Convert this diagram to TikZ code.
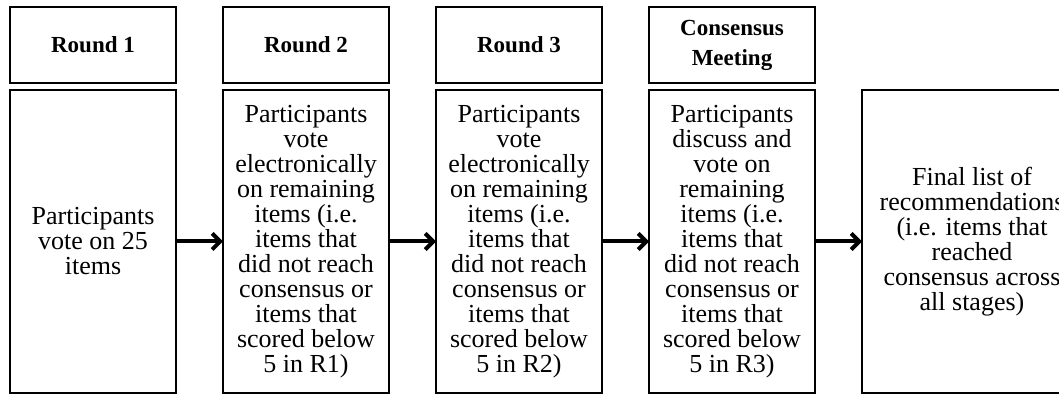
\documentclass[tikz,border=0pt]{standalone}
\usepackage{fontspec}
\setmainfont{Liberation Serif}
\usepackage{tikz}
\usetikzlibrary{positioning}
\usetikzlibrary{arrows.meta}

\begin{document}
\begin{tikzpicture}[
        node distance=3.5pt and 23.5pt,
        box/.style={draw, line width=0.9pt, outer sep=0, align=center, minimum width=83pt},
        head/.style={box, minimum height=38pt, font=\bfseries\fontsize{11.5}{15}\selectfont},
        stage/.style={box, minimum height=151.5pt, font=\fontsize{13}{12.5}\selectfont},
        final/.style={stage, minimum width=110pt},
        >={Straight Barb[length=4pt,width=8pt]}
      ]
     \useasboundingbox (0,0) rectangle (529.5pt,-197pt);
     \clip (0,0) rectangle (529.5pt,-197pt);
     % headings
     \node[head, anchor=north west] (h1) at (5pt,-3.5pt) {Round 1};
     \node[head, right=of h1] (h2) {Round 2};
     \node[head, right=of h2] (h3) {Round 3};
     \node[head, right=of h3] (h4) {Consensus\\Meeting};
     % stages
     \node[stage, below=of h1] (b1) {Participants\\vote on 25\\items};
     \node[stage, below=of h2] (b2) {Participants\\vote\\electronically\\on remaining\\items (i.e.\\items that\\did not reach\\consensus or\\items that\\scored below\\5 in R1)};
     \node[stage, below=of h3] (b3) {Participants\\vote\\electronically\\on remaining\\items (i.e.\\items that\\did not reach\\consensus or\\items that\\scored below\\5 in R2)};
     \node[stage, below=of h4] (b4) {Participants\\discuss and\\vote on\\remaining\\items (i.e.\\items that\\did not reach\\consensus or\\items that\\scored below\\5 in R3)};
     \node[final, right=of b4] (b5) {Final list of\\recommendations\\(i.e. items that\\reached\\consensus across\\all stages)};
     % arrows
     \draw (b1) edge[->, line width=2pt] (b2);
     \draw (b2) edge[->, line width=2pt] (b3);
     \draw (b3) edge[->, line width=2pt] (b4);
     \draw (b4) edge[->, line width=2pt] (b5);
  \end{tikzpicture}
\end{document}
